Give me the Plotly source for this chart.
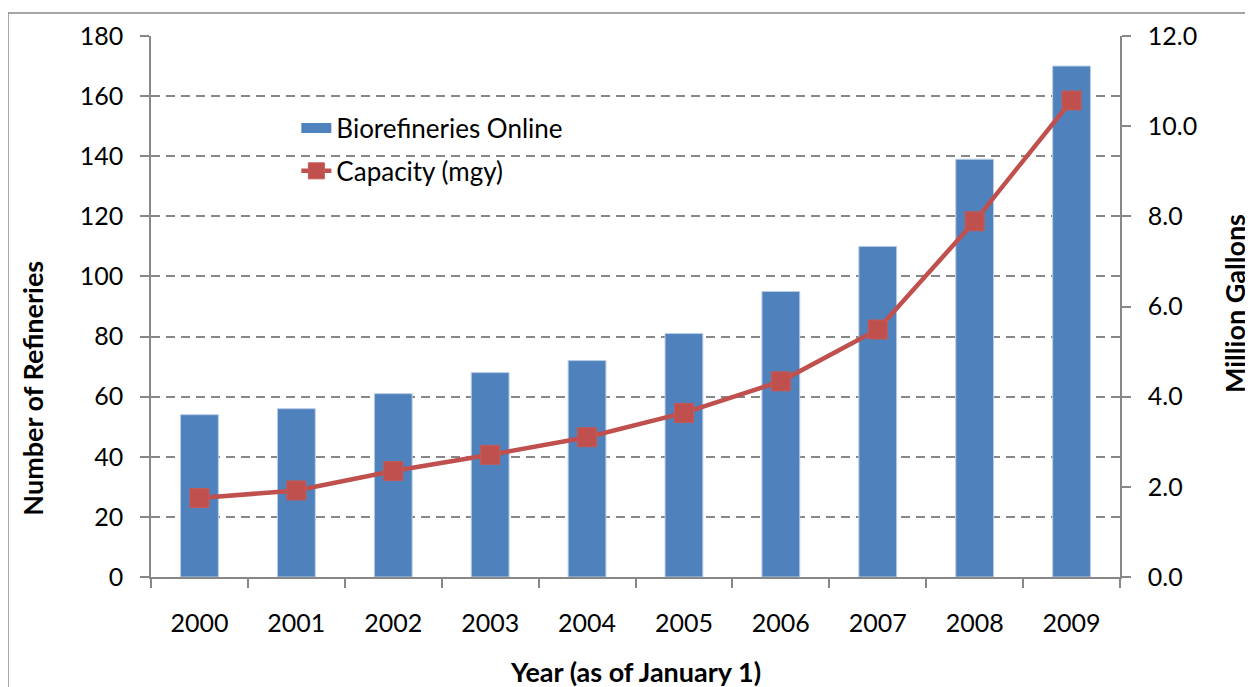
import plotly.graph_objects as go

years = ["2000", "2001", "2002", "2003", "2004", "2005", "2006", "2007", "2008", "2009"]
refineries = [54, 56, 61, 68, 72, 81, 95, 110, 139, 170]
capacity = [1.75, 1.92, 2.35, 2.71, 3.10, 3.64, 4.34, 5.49, 7.89, 10.57]

FONT = "Lato"
GRID = "#878787"
BLUE = "#4F81BD"
RED = "#C0504D"

fig = go.Figure()
fig.add_trace(go.Bar(
    x=years, y=refineries, name="Biorefineries Online",
    marker=dict(color=BLUE, line=dict(color="#B9CDE5", width=1)),
    showlegend=False,
))
# legend entry for the bars (wide block symbol like the original)
fig.add_trace(go.Scatter(
    x=[None], y=[None], name="Biorefineries Online", mode="lines",
    line=dict(color=BLUE, width=14), legend="legend", hoverinfo="skip",
))
fig.add_trace(go.Scatter(
    x=years, y=capacity, name="Capacity (mgy)", yaxis="y2",
    mode="lines+markers",
    line=dict(color=RED, width=4.5),
    marker=dict(symbol="square", size=19, color=RED, line=dict(color="#C55A57", width=1)),
    legend="legend2",
))

fig.update_layout(
    width=1245, height=679,
    margin=dict(l=143, r=133, t=25, b=110),
    paper_bgcolor="white", plot_bgcolor="white",
    font=dict(family=FONT, size=25, color="black"),
    bargap=0.61,
    showlegend=True,
    legend=dict(x=0.15, y=0.873, xanchor="left", yanchor="top",
                bgcolor="rgba(0,0,0,0)", font=dict(size=26)),
    legend2=dict(x=0.15, y=0.794, xanchor="left", yanchor="top",
                 bgcolor="rgba(0,0,0,0)", font=dict(size=26)),
    xaxis=dict(
        type="category", range=[-0.5, 9.5], showline=True, linecolor=GRID, linewidth=1.5,
        ticks="outside", tickson="boundaries", ticklen=9, tickcolor=GRID, tickwidth=1.5,
        showgrid=False, tickfont=dict(size=25), ticklabelstandoff=23,
    ),
    yaxis=dict(
        range=[0, 180], dtick=20, showline=True, linecolor=GRID, linewidth=1.5,
        ticks="outside", ticklen=9, tickcolor=GRID, tickwidth=1.5,
        showgrid=True, gridcolor=GRID, griddash="9px,6px", gridwidth=1.5,
        zeroline=False, tickfont=dict(size=25), ticklabelstandoff=12,
    ),
    yaxis2=dict(
        range=[0, 12], dtick=2, tickformat=".1f", overlaying="y", side="right",
        showline=True, linecolor=GRID, linewidth=1.5,
        ticks="outside", ticklen=9, tickcolor=GRID, tickwidth=1.5,
        showgrid=False, zeroline=False, tickfont=dict(size=25), ticklabelstandoff=12,
    ),
    annotations=[
        dict(text="<b>Number of Refineries</b>", xref="paper", yref="paper",
             x=-0.1218, y=0.350, textangle=-90, showarrow=False,
             font=dict(size=27), xanchor="center", yanchor="middle"),
        dict(text="<b>Million Gallons</b>", xref="paper", yref="paper",
             x=1.1177, y=0.5046, textangle=-90, showarrow=False,
             font=dict(size=27), xanchor="center", yanchor="middle"),
        dict(text="<b>Year (as of January 1)</b>", xref="paper", yref="paper",
             x=0.5, y=-0.1746, showarrow=False,
             font=dict(size=27), xanchor="center", yanchor="middle"),
    ],
    shapes=[
        dict(type="rect", xref="paper", yref="paper",
             x0=-0.1476, x1=1.3, y0=-0.5, y1=1.0423,
             line=dict(color="#888888", width=1.5), fillcolor="rgba(0,0,0,0)", layer="below"),
    ],
)

fig.write_html("out.html")
